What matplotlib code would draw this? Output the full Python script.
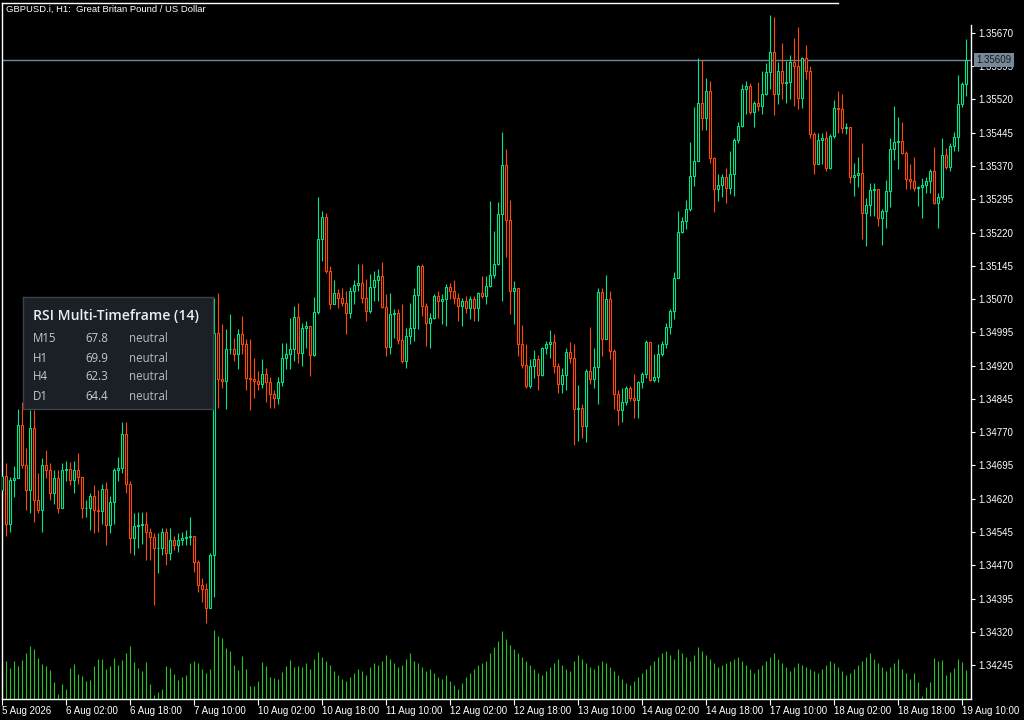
import numpy as np
import matplotlib
matplotlib.use("Agg")
import matplotlib.pyplot as plt
from matplotlib.transforms import blended_transform_factory

# ---------------------------------------------------------------------------
# Data (GBPUSD.i H1)
# ---------------------------------------------------------------------------

first_open = 1.34639

closes = np.array([
    1.34672, 1.34564, 1.34663, 1.34666, 1.34787, 1.34695, 1.34639, 1.34780, 1.34618, 1.34594,
    1.34697, 1.34684, 1.34634, 1.34666, 1.34600, 1.34684, 1.34688, 1.34663, 1.34684, 1.34668,
    1.34598, 1.34600, 1.34627, 1.34594, 1.34592, 1.34641, 1.34560, 1.34612, 1.34684, 1.34690,
    1.34767, 1.34654, 1.34531, 1.34558, 1.34560, 1.34564, 1.34544, 1.34533, 1.34508, 1.34510,
    1.34544, 1.34497, 1.34528, 1.34515, 1.34528, 1.34531, 1.34533, 1.34535, 1.34477, 1.34425,
    1.34416, 1.34373, 1.34492, 1.34994, 1.34891, 1.34886, 1.34958, 1.34958, 1.34947, 1.34992,
    1.34969, 1.34893, 1.34891, 1.34886, 1.34879, 1.34902, 1.34884, 1.34857, 1.34848, 1.34882,
    1.34938, 1.34947, 1.34958, 1.35030, 1.34949, 1.35005, 1.35010, 1.34945, 1.35041, 1.35206,
    1.35255, 1.35134, 1.35059, 1.35084, 1.35073, 1.35062, 1.35039, 1.35089, 1.35102, 1.35107,
    1.35073, 1.35044, 1.35098, 1.35113, 1.35122, 1.35053, 1.34963, 1.35037, 1.35039, 1.34978,
    1.34931, 1.34987, 1.35005, 1.35080, 1.35145, 1.35055, 1.35017, 1.35028, 1.35077, 1.35066,
    1.35071, 1.35098, 1.35089, 1.35073, 1.35055, 1.35066, 1.35050, 1.35071, 1.35050, 1.35084,
    1.35077, 1.35100, 1.35125, 1.35149, 1.35262, 1.35372, 1.35248, 1.35089, 1.35095, 1.34969,
    1.34922, 1.34873, 1.34920, 1.34936, 1.34900, 1.34960, 1.34969, 1.34974, 1.34920, 1.34879,
    1.34900, 1.34951, 1.34938, 1.34823, 1.34825, 1.34783, 1.34909, 1.34891, 1.34918, 1.35086,
    1.34981, 1.35071, 1.34954, 1.34855, 1.34819, 1.34837, 1.34870, 1.34848, 1.34843, 1.34884,
    1.34902, 1.34974, 1.34888, 1.34895, 1.34947, 1.34969, 1.35008, 1.35044, 1.35118, 1.35221,
    1.35246, 1.35273, 1.35347, 1.35381, 1.35512, 1.35478, 1.35539, 1.35388, 1.35318, 1.35327,
    1.35345, 1.35320, 1.35352, 1.35428, 1.35460, 1.35543, 1.35550, 1.35491, 1.35512, 1.35505,
    1.35532, 1.35581, 1.35626, 1.35532, 1.35584, 1.35557, 1.35559, 1.35604, 1.35595, 1.35523,
    1.35613, 1.35584, 1.35442, 1.35374, 1.35428, 1.35433, 1.35365, 1.35437, 1.35500, 1.35498,
    1.35455, 1.35458, 1.35345, 1.35350, 1.35354, 1.35264, 1.35282, 1.35316, 1.35318, 1.35253,
    1.35269, 1.35314, 1.35408, 1.35424, 1.35426, 1.35399, 1.35341, 1.35336, 1.35320, 1.35323,
    1.35327, 1.35336, 1.35359, 1.35287, 1.35300, 1.35395, 1.35368, 1.35415, 1.35435, 1.35509,
    1.35554, 1.35609,
])

highs = np.array([
    1.34695, 1.34700, 1.34670, 1.34693, 1.34823, 1.34837, 1.34735, 1.34819, 1.34819, 1.34677,
    1.34711, 1.34729, 1.34700, 1.34684, 1.34684, 1.34700, 1.34706, 1.34702, 1.34706, 1.34722,
    1.34670, 1.34616, 1.34632, 1.34650, 1.34639, 1.34654, 1.34657, 1.34627, 1.34690, 1.34713,
    1.34792, 1.34792, 1.34661, 1.34587, 1.34589, 1.34589, 1.34589, 1.34555, 1.34542, 1.34542,
    1.34553, 1.34555, 1.34555, 1.34537, 1.34542, 1.34546, 1.34549, 1.34578, 1.34537, 1.34481,
    1.34441, 1.34429, 1.34497, 1.35073, 1.35084, 1.35014, 1.35003, 1.35037, 1.34983, 1.35003,
    1.35032, 1.34981, 1.34981, 1.34938, 1.34909, 1.34936, 1.34915, 1.34895, 1.34864, 1.34895,
    1.34972, 1.34972, 1.35028, 1.35055, 1.35062, 1.35017, 1.35021, 1.35010, 1.35075, 1.35300,
    1.35269, 1.35264, 1.35145, 1.35113, 1.35093, 1.35095, 1.35089, 1.35098, 1.35113, 1.35149,
    1.35149, 1.35116, 1.35127, 1.35134, 1.35138, 1.35154, 1.35082, 1.35084, 1.35048, 1.35048,
    1.35059, 1.35005, 1.35062, 1.35095, 1.35147, 1.35149, 1.35062, 1.35039, 1.35082, 1.35089,
    1.35082, 1.35104, 1.35107, 1.35113, 1.35084, 1.35073, 1.35077, 1.35077, 1.35077, 1.35086,
    1.35122, 1.35122, 1.35291, 1.35224, 1.35289, 1.35446, 1.35408, 1.35293, 1.35111, 1.35095,
    1.35012, 1.34969, 1.34936, 1.34956, 1.34945, 1.34962, 1.34976, 1.35001, 1.34992, 1.34927,
    1.34915, 1.34960, 1.34974, 1.34969, 1.34877, 1.34834, 1.34913, 1.35008, 1.34960, 1.35095,
    1.35095, 1.35125, 1.35089, 1.34958, 1.34864, 1.34870, 1.34875, 1.34875, 1.34902, 1.34886,
    1.34906, 1.34978, 1.34974, 1.34947, 1.34969, 1.34976, 1.35017, 1.35048, 1.35131, 1.35269,
    1.35255, 1.35293, 1.35424, 1.35503, 1.35613, 1.35608, 1.35568, 1.35561, 1.35390, 1.35352,
    1.35352, 1.35365, 1.35404, 1.35433, 1.35469, 1.35554, 1.35561, 1.35557, 1.35516, 1.35559,
    1.35584, 1.35602, 1.35710, 1.35707, 1.35604, 1.35647, 1.35606, 1.35620, 1.35658, 1.35683,
    1.35615, 1.35642, 1.35595, 1.35446, 1.35444, 1.35444, 1.35449, 1.35442, 1.35518, 1.35539,
    1.35532, 1.35467, 1.35458, 1.35377, 1.35390, 1.35422, 1.35298, 1.35332, 1.35332, 1.35318,
    1.35273, 1.35338, 1.35433, 1.35505, 1.35480, 1.35469, 1.35404, 1.35374, 1.35390, 1.35325,
    1.35343, 1.35345, 1.35363, 1.35413, 1.35309, 1.35433, 1.35410, 1.35422, 1.35446, 1.35575,
    1.35559, 1.35656,
])

lows = np.array([
    1.34616, 1.34537, 1.34544, 1.34623, 1.34666, 1.34690, 1.34594, 1.34587, 1.34567, 1.34587,
    1.34544, 1.34666, 1.34616, 1.34609, 1.34587, 1.34600, 1.34661, 1.34652, 1.34632, 1.34654,
    1.34576, 1.34578, 1.34549, 1.34542, 1.34544, 1.34564, 1.34515, 1.34542, 1.34564, 1.34661,
    1.34677, 1.34632, 1.34497, 1.34492, 1.34510, 1.34519, 1.34481, 1.34481, 1.34380, 1.34452,
    1.34492, 1.34470, 1.34481, 1.34504, 1.34499, 1.34515, 1.34515, 1.34515, 1.34454, 1.34409,
    1.34387, 1.34339, 1.34373, 1.34398, 1.34825, 1.34870, 1.34823, 1.34947, 1.34931, 1.34913,
    1.34947, 1.34864, 1.34819, 1.34846, 1.34864, 1.34870, 1.34837, 1.34825, 1.34825, 1.34834,
    1.34875, 1.34913, 1.34913, 1.34931, 1.34927, 1.34920, 1.34960, 1.34897, 1.34942, 1.35037,
    1.35156, 1.35129, 1.35048, 1.35059, 1.35050, 1.35055, 1.34992, 1.35028, 1.35059, 1.35089,
    1.35062, 1.35021, 1.35039, 1.35066, 1.35066, 1.35050, 1.34942, 1.34947, 1.34983, 1.34969,
    1.34927, 1.34915, 1.34969, 1.34976, 1.35003, 1.35032, 1.34965, 1.34960, 1.35026, 1.35028,
    1.35014, 1.35010, 1.35071, 1.35059, 1.35021, 1.35010, 1.35039, 1.35026, 1.35021, 1.35021,
    1.35073, 1.35059, 1.35098, 1.35118, 1.35147, 1.35066, 1.35165, 1.35037, 1.35014, 1.34942,
    1.34915, 1.34870, 1.34870, 1.34893, 1.34864, 1.34897, 1.34947, 1.34938, 1.34904, 1.34859,
    1.34859, 1.34864, 1.34927, 1.34740, 1.34751, 1.34758, 1.34747, 1.34879, 1.34870, 1.34834,
    1.34942, 1.34981, 1.34936, 1.34823, 1.34787, 1.34792, 1.34832, 1.34841, 1.34801, 1.34801,
    1.34870, 1.34893, 1.34886, 1.34882, 1.34882, 1.34942, 1.34960, 1.34992, 1.35026, 1.35118,
    1.35219, 1.35228, 1.35269, 1.35325, 1.35381, 1.35451, 1.35451, 1.35377, 1.35266, 1.35291,
    1.35300, 1.35287, 1.35307, 1.35302, 1.35422, 1.35458, 1.35487, 1.35487, 1.35458, 1.35494,
    1.35487, 1.35530, 1.35543, 1.35485, 1.35509, 1.35521, 1.35512, 1.35521, 1.35505, 1.35498,
    1.35500, 1.35566, 1.35433, 1.35352, 1.35379, 1.35374, 1.35359, 1.35363, 1.35433, 1.35444,
    1.35444, 1.35442, 1.35332, 1.35302, 1.35323, 1.35206, 1.35190, 1.35257, 1.35257, 1.35235,
    1.35192, 1.35230, 1.35278, 1.35383, 1.35363, 1.35397, 1.35318, 1.35318, 1.35314, 1.35280,
    1.35253, 1.35309, 1.35309, 1.35284, 1.35230, 1.35293, 1.35363, 1.35359, 1.35404, 1.35404,
    1.35503, 1.35527,
])

volumes = np.array([
    1700, 1900, 1550, 1900, 1650, 1950, 2300, 2650, 2500, 2050,
    1750, 1650, 1450, 850, 250, 750, 500, 1550, 1750, 1250,
    1150, 900, 950, 1650, 2000, 2000, 1500, 1650, 2050, 1700,
    1950, 2300, 2650, 1850, 1550, 1400, 1850, 750, 200, 350,
    500, 1650, 1550, 1250, 950, 1100, 1200, 1800, 1900, 1800,
    1500, 1300, 1500, 3450, 3150, 3050, 2550, 2400, 1700, 1450,
    2150, 1500, 650, 650, 900, 1850, 1650, 1100, 1050, 1000,
    1350, 1650, 1950, 1600, 1650, 1600, 1800, 1500, 2000, 2350,
    2100, 1900, 1700, 1400, 1200, 1000, 900, 1100, 1300, 1500,
    1400, 1200, 1600, 1800, 1700, 1900, 2200, 2000, 1800, 1600,
    1700, 2000, 2300, 1900, 1800, 1600, 1400, 1500, 1300, 1100,
    1000, 1200, 900, 700, 500, 800, 1100, 1300, 1500, 1700,
    1800, 1900, 2300, 2600, 2900, 3400, 3000, 2700, 2500, 2300,
    2100, 1900, 1700, 1500, 1300, 1200, 1400, 1600, 1800, 2000,
    1700, 1500, 1400, 1900, 2200, 2000, 1800, 1600, 1500, 1700,
    1900, 1800, 1600, 1400, 1200, 1000, 800, 700, 900, 1100,
    1300, 1500, 1700, 1900, 2100, 2300, 2400, 2200, 2000, 2500,
    2300, 2100, 1900, 2200, 2600, 2400, 2200, 2000, 1800, 1600,
    1700, 1800, 1900, 2000, 2100, 1900, 1700, 1500, 1300, 1500,
    1700, 1900, 2100, 2300, 2000, 1800, 1600, 1400, 1600, 1800,
    1700, 1600, 1500, 1400, 1300, 1500, 1700, 1900, 1800, 1600,
    1400, 1200, 1300, 1500, 1700, 1900, 2100, 2300, 2000, 1800,
    1600, 1400, 1600, 1800, 2000, 1500, 1300, 1000, 1300, 850,
    150, 600, 850, 2050, 1900, 1950, 1200, 1350, 1550, 2000,
    1850, 1450,
])

time_labels = [
    "5 Aug 2026", "6 Aug 02:00", "6 Aug 18:00", "7 Aug 10:00",
    "10 Aug 02:00", "10 Aug 18:00", "11 Aug 10:00", "12 Aug 02:00",
    "12 Aug 18:00", "13 Aug 10:00", "14 Aug 02:00", "14 Aug 18:00",
    "17 Aug 10:00", "18 Aug 02:00", "18 Aug 18:00", "19 Aug 10:00",
]
bars_per_label = 16

price_ticks = [1.34245, 1.34320, 1.34395, 1.34470, 1.34545, 1.34620, 1.34695,
               1.34770, 1.34845, 1.34920, 1.34995, 1.35070, 1.35145, 1.35220,
               1.35295, 1.35370, 1.35445, 1.35520, 1.35595, 1.35670]
last_price = 1.35609

rsi_timeframes = ["M15", "H1", "H4", "D1"]
rsi_values = [67.8, 69.9, 62.3, 64.4]
rsi_states = ["neutral", "neutral", "neutral", "neutral"]

# ---------------------------------------------------------------------------
# Style
# ---------------------------------------------------------------------------

W, H = 1024, 720
BULL = "#00E68A"
BEAR = "#FF4A0D"
VOL_COLOR = "#22C322"
BID_COLOR = "#778899"
AXIS_FONT = "Liberation Sans"


def px_rect(x0, y0, w, h):
    """Pixel box (top-left origin) -> figure fraction rect."""
    return [x0 / W, 1 - (y0 + h) / H, w / W, h / H]


opens = np.r_[first_open, closes[:-1]]
x = np.arange(len(closes))
colors = np.where(closes >= opens, BULL, BEAR)

fig = plt.figure(figsize=(W / 100, H / 100), dpi=100, facecolor="black")

plot_box = px_rect(2, 3, 969, 696)
ax_vol = fig.add_axes(plot_box)
ax = fig.add_axes(plot_box)
ax_vol.set_zorder(0)
ax.set_zorder(1)
ax.patch.set_visible(False)
ax_vol.set_facecolor("black")

x_lim = (-0.1, 242.25)
y_lim = (1.341685, 1.357375)

# volume histogram
ax_vol.vlines(x, 0, volumes, colors=VOL_COLOR, linewidth=0.8)
ax_vol.set_xlim(*x_lim)
ax_vol.set_ylim(0, 34800)
ax_vol.axis("off")

# candles: wicks then hollow bodies
ax.vlines(x, lows, highs, colors=colors, linewidth=0.8, zorder=2)
body = np.maximum(np.abs(closes - opens), 1e-7)
ax.bar(x, body, bottom=np.minimum(opens, closes), width=0.5,
       color="black", edgecolor=colors, linewidth=0.8, zorder=3)

# bid line + label (covers the tick label under it, as in the terminal)
ax.axhline(last_price, color=BID_COLOR, linewidth=1.0, zorder=1)
trans = blended_transform_factory(ax.transAxes, ax.transData)
ax.text(1.0 + 5 / 969, last_price, f"{last_price:.5f}", transform=trans,
        ha="left", va="center", fontsize=7, family=AXIS_FONT, color="#1a1a1a",
        bbox=dict(boxstyle="square,pad=0.25", fc=BID_COLOR, ec="none"),
        zorder=10, clip_on=False)

ax.set_xlim(*x_lim)
ax.set_ylim(*y_lim)

# axes frame
for side in ("left", "bottom", "right", "top"):
    ax.spines[side].set_color("white")
    ax.spines[side].set_linewidth(1.0)
ax.spines["right"].set_bounds(y_lim[0], 1.35688)
ax.spines["top"].set_bounds(x_lim[0], 209)

ax.yaxis.tick_right()
ax.set_yticks(price_ticks)
ax.set_yticklabels([f"{p:.5f}" for p in price_ticks])
ax.tick_params(axis="y", colors="white", labelsize=7, length=3, width=0.8,
               pad=2, left=False, right=True, labelleft=False, labelright=True)

ax.set_xticks(np.arange(len(time_labels)) * bars_per_label)
ax.set_xticklabels(time_labels)
ax.tick_params(axis="x", colors="white", labelsize=7, length=4, width=0.8, pad=1)
for lbl in ax.get_xticklabels() + ax.get_yticklabels():
    lbl.set_family(AXIS_FONT)
for lbl in ax.get_xticklabels():
    lbl.set_horizontalalignment("left")

# chart caption
fig.text(6 / W, 1 - 9 / H, "GBPUSD.i, H1:  Great Britan Pound / US Dollar",
         color="white", fontsize=6.8, family=AXIS_FONT, va="center", ha="left")

# ---------------------------------------------------------------------------
# RSI panel
# ---------------------------------------------------------------------------

pw, ph = 190, 112
pax = fig.add_axes(px_rect(23, 297, pw, ph))
pax.set_zorder(5)
pax.set_facecolor("#1b1f26")
pax.set_xticks([])
pax.set_yticks([])
for s in pax.spines.values():
    s.set_color("#3c414a")
    s.set_linewidth(1.0)

pax.text(10 / pw, 1 - 19 / ph, "RSI Multi-Timeframe (14)", transform=pax.transAxes,
         fontsize=10.1, family="Open Sans", weight="semibold", color="#eceff2",
         ha="left", va="center")
for i, (tf, val, st) in enumerate(zip(rsi_timeframes, rsi_values, rsi_states)):
    yy = 1 - (42 + 19 * i) / ph
    pax.text(10 / pw, yy, tf, transform=pax.transAxes, fontsize=8.3,
             family="Open Sans", color="#c6cad0", ha="left", va="center")
    pax.text(62 / pw, yy, f"{val:.1f}", transform=pax.transAxes, fontsize=8.3,
             family="Open Sans", color="#c6cad0", ha="left", va="center")
    pax.text(106 / pw, yy, st, transform=pax.transAxes, fontsize=8.3,
             family="Open Sans", color="#b8bcc2", ha="left", va="center")

fig.savefig("out.png", dpi=100, facecolor="black")
